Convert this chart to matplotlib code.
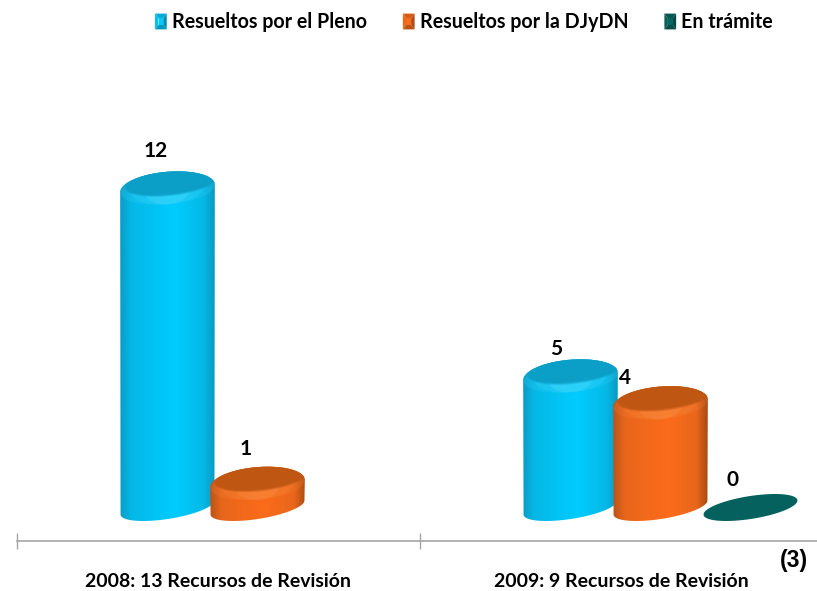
import numpy as np
import matplotlib
matplotlib.use("Agg")
import matplotlib.pyplot as plt
from matplotlib.colors import LinearSegmentedColormap, to_rgb
from matplotlib.legend_handler import HandlerBase
from matplotlib.patches import Patch, Polygon, Rectangle

# Data
categories = ["2008: 13 Recursos de Revisión", "2009: 9 Recursos de Revisión"]
series_names = ["Resueltos por el Pleno", "Resueltos por la DJyDN", "En trámite"]
pleno = [12, 5]
djydn = [1, 4]
tramite = [None, 0]
footnote = "(3)"

# Colours: left edge, mid, bright, right edge, cap, rim
blue = ["#0a9cc6", "#05b8e6", "#00ccff", "#0a9ac2", "#0b9fc8", "#3fd4f8"]
orange = ["#b9531a", "#e8661c", "#fb6c1a", "#a84b12", "#bf5713", "#f8873a"]
green = ["#045c58", "#056560", "#056a65", "#045c58", "#04615d", "#04615d"]

plt.rcParams["font.family"] = ["Lato", "DejaVu Sans"]
plt.rcParams["font.weight"] = "bold"

W, H = 817, 591
AX_LEFT, AX_RIGHT, AX_BASE = 17, 823, 541
ZERO_PX = 507.5          # pixel row of value 0
PX_PER_UNIT = 26.85
PX_PER_CAT = (AX_RIGHT - AX_LEFT) / 2

ELL_A, ELL_B, TILT = 47.5, 11.4, np.radians(9)
TOP_TILT = np.radians(5)
BAR_STEP = 90 / PX_PER_CAT
GROUP_SHIFT = 39 / PX_PER_CAT

# label offsets from the top of each bar (px): x, y
label_nudge = {(0, 0): (-12, 34), (0, 1): (-12, 32), (1, 0): (-14, 24),
               (1, 1): (-36, 22), (1, 2): (-18, 28)}


def ellipse(cx, val, a=ELL_A, b=ELL_B, dx=0, dy=0, n=181, t0=0, t1=2 * np.pi, tilt=TILT):
    t = np.linspace(t0, t1, n)
    ex = a * np.cos(t)
    ey = b * np.sin(t)
    px = ex * np.cos(tilt) - ey * np.sin(tilt) + dx
    py = ex * np.sin(tilt) + ey * np.cos(tilt) + dy
    return np.column_stack([cx + px / PX_PER_CAT, val + py / PX_PER_UNIT])


def draw_bar(ax, cx, val, cols, zorder):
    if val == 0:
        ax.add_patch(Polygon(ellipse(cx, 0), closed=True, fc=cols[4], ec="none", zorder=zorder))
        return
    # tangent angle of the silhouette on the tilted base ellipse
    t_r = np.arctan2(-ELL_B * np.sin(TILT), ELL_A * np.cos(TILT))
    lower = ellipse(cx, 0, t0=t_r + np.pi, t1=t_r + 2 * np.pi, n=90)
    # rounded top: taller and flatter than the base, so the shoulders fall off softly
    upper = ellipse(cx, val, b=16.5, dy=-3, t0=0, t1=np.pi, n=90, tilt=TOP_TILT)
    half = ELL_A / PX_PER_CAT
    upper[:, 0] = np.clip(upper[:, 0], cx - half, cx + half)
    outline = Polygon(np.vstack([lower, upper]), closed=True, transform=ax.transData)

    cmap = LinearSegmentedColormap.from_list(
        "body", [(0, cols[0]), (0.12, cols[1]), (0.58, cols[2]), (0.88, cols[1]), (1, cols[3])])
    im = ax.imshow(np.linspace(0, 1, 256).reshape(1, -1), cmap=cmap, aspect="auto",
                   extent=[cx - half, cx + half, -1, val + 1], zorder=zorder)
    im.set_clip_path(outline)

    # lighter rounded shoulder under the top face
    for a, b, dy, alpha in [(47, 15, -4, 0.2), (36, 14, -5, 0.25), (22, 13, -6, 0.5)]:
        s = Polygon(ellipse(cx, val, a=a, b=b, dy=dy, tilt=TOP_TILT), closed=True,
                    fc=cols[5], ec="none", alpha=alpha, zorder=zorder + 0.1)
        ax.add_patch(s)
        s.set_clip_path(outline)
    # top face
    for grow, alpha in [(0, 0.4), (-1, 0.6), (-2, 1)]:
        f = Polygon(ellipse(cx, val, a=48 + grow, b=14 + grow, dx=4, dy=3.5, tilt=np.radians(7)),
                    closed=True, fc=cols[4], ec="none", alpha=alpha, zorder=zorder + 0.2)
        ax.add_patch(f)
        f.set_clip_path(outline)


class PyramidHandler(HandlerBase):
    # square legend key with bevelled edges
    def create_artists(self, legend, orig, xd, yd, width, height, fontsize, trans):
        c = np.array(to_rgb(orig.get_facecolor()))
        x0, y0 = -xd, -yd - 1
        x1, y1 = x0 + width, y0 + height + 1.5
        ix, iy = width * 0.3, (y1 - y0) * 0.3
        a0, b0, a1, b1 = x0 + ix, y0 + iy, x1 - ix, y1 - iy
        faces = [([(x0, y1), (x1, y1), (a1, b1), (a0, b1)], 0.85),
                 ([(x0, y0), (x1, y0), (a1, b0), (a0, b0)], 0.75),
                 ([(x0, y0), (x0, y1), (a0, b1), (a0, b0)], 0.95),
                 ([(x1, y0), (x1, y1), (a1, b1), (a1, b0)], 0.7)]
        arts = [Polygon(pts, closed=True, fc=np.clip(c * k, 0, 1), ec="none", transform=trans)
                for pts, k in faces]
        arts.append(Rectangle((a0, b0), a1 - a0, b1 - b0, fc=c, ec="none", transform=trans))
        return arts


fig = plt.figure(figsize=(W / 100, H / 100), dpi=100)
ax = fig.add_axes([AX_LEFT / W, (H - AX_BASE) / H, (AX_RIGHT - AX_LEFT) / W, AX_BASE / H])
ax.patch.set_alpha(0)

series = [pleno, djydn, tramite]
palettes = [blue, orange, green]
for s, (vals, cols) in enumerate(zip(series, palettes)):
    for c, v in enumerate(vals):
        if v is None:
            continue
        cx = c + 0.5 + GROUP_SHIFT + (s - 1) * BAR_STEP
        draw_bar(ax, cx, v, cols, 3 + s)
        nx, ny = label_nudge[(c, s)]
        ax.annotate(str(v), (cx, v), xytext=(nx * 0.72, ny * 0.72), textcoords="offset points",
                    ha="center", va="center", fontsize=15, color="black", zorder=10)

ax.set_xlim(0, 2)
ax.set_ylim(-(AX_BASE - ZERO_PX) / PX_PER_UNIT, ZERO_PX / PX_PER_UNIT)
ax.set_yticks([])
for side in ["top", "left", "right"]:
    ax.spines[side].set_visible(False)
ax.spines["bottom"].set_color("#a6a6a6")
ax.spines["bottom"].set_linewidth(1.2)
ax.set_xticks([0, 1, 2])
ax.set_xticklabels([])
ax.tick_params(axis="x", which="major", direction="inout", length=11, width=1, color="#a6a6a6")
ax.set_xticks([0.5, 1.5], labels=categories, minor=True)
ax.tick_params(axis="x", which="minor", length=0, pad=23, labelsize=14)

handles = [Patch(facecolor=palettes[i][2 if i < 2 else 1], label=series_names[i]) for i in range(3)]
fig.legend(handles=handles, loc="center left", bbox_to_anchor=(155 / W, 1 - 22 / H), ncol=3,
           frameon=False, fontsize=14.1, handlelength=0.6, handleheight=0.7,
           handletextpad=0.25, columnspacing=1.85, borderpad=0, borderaxespad=0,
           handler_map={Patch: PyramidHandler()})

fig.text(794 / W, 1 - 560 / H, footnote, ha="center", va="center", fontsize=16.5, color="black",
         family="Liberation Sans")

fig.savefig("out.png", dpi=100)
